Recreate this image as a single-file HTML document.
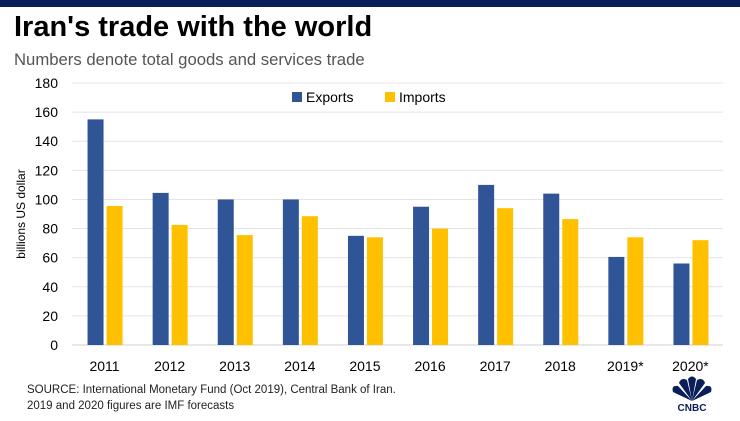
<!DOCTYPE html>
<html><head><meta charset="utf-8"><style>
html,body{margin:0;padding:0;background:#fff;}
body{width:740px;height:416px;overflow:hidden;position:relative;font-family:"Liberation Sans",sans-serif;}
</style></head><body>
<svg width="740" height="416" viewBox="0 0 740 416" xmlns="http://www.w3.org/2000/svg">
<rect x="0" y="0" width="740" height="7" fill="#0a1e5a"/>
<text x="14" y="36" font-size="29" font-weight="bold" fill="#000">Iran's trade with the world</text>
<text x="14" y="65" font-size="16.7" fill="#555">Numbers denote total goods and services trade</text>
<g id="grid"></g>
<g id="yt"></g>
<text transform="translate(25,214) rotate(-90)" text-anchor="middle" font-size="12" fill="#000">billions US dollar</text>
<g id="bars"></g>
<g id="xt"></g>
<g>
<rect x="292" y="92" width="10" height="10" fill="#2f5597"/>
<text x="306" y="102" font-size="14">Exports</text>
<rect x="385" y="92" width="10" height="10" fill="#ffc000"/>
<text x="399" y="102" font-size="14">Imports</text>
</g>
<text x="27" y="393" font-size="11.5" fill="#222">SOURCE: International Monetary Fund (Oct 2019), Central Bank of Iran.</text>
<text x="27" y="409" font-size="11.5" fill="#222">2019 and 2020 figures are IMF forecasts</text>
<g fill="#0a1e5a">
<path d="M692 401 L673 392 Q671 385 678 386 Z"/>
<path d="M692 401 L679 383 Q681 377 687 380 Z"/>
<path d="M692 401 L688 379 Q692 374 696 379 Z"/>
<path d="M692 401 L697 380 Q703 377 705 383 Z"/>
<path d="M692 401 L706 386 Q713 385 711 392 Z"/>
<text x="692" y="411" text-anchor="middle" font-size="10" font-weight="bold" font-family="Liberation Sans">CNBC</text>
</g>
</svg>
<script>
const categories=["2011","2012","2013","2014","2015","2016","2017","2018","2019*","2020*"];
const exportsVals=[155,104.5,100,100,75,95,110,104,60.5,56];
const importsVals=[95.5,82.5,75.5,88.5,74,80,94,86.5,74,72];
const yTicks=[0,20,40,60,80,100,120,140,160,180];
const NS="http://www.w3.org/2000/svg";
const x0=72,x1=723,y0=345,y180=83,ymax=180;
const y=v=>y0-(v/ymax)*(y0-y180);
const band=(x1-x0)/categories.length;
const cx=i=>x0+band*(i+0.5);
function mk(t,a,p){const e=document.createElementNS(NS,t);for(const k in a)e.setAttribute(k,a[k]);p.appendChild(e);return e;}
const grid=document.getElementById('grid'),yt=document.getElementById('yt'),bars=document.getElementById('bars'),xt=document.getElementById('xt');
yTicks.forEach(v=>{
 const l=mk('line',{x1:x0,x2:x1,y1:y(v),y2:y(v),stroke:v===0?'#d0d0d0':'#e4e4e4','stroke-width':1},grid);
 
 
 const t=mk('text',{x:58,y:y(v)+5,'text-anchor':'end','font-size':14},yt);t.textContent=v;
 
 
});
categories.forEach((c,i)=>{
 const e=mk('rect',{x:cx(i)-17,y:y(exportsVals[i]),width:16,height:y0-y(exportsVals[i]),fill:'#2f5597'},bars);
 
 
 const m=mk('rect',{x:cx(i)+2,y:y(importsVals[i]),width:16,height:y0-y(importsVals[i]),fill:'#ffc000'},bars);
 
 
 const t=mk('text',{x:cx(i),y:371,'text-anchor':'middle','font-size':14},xt);t.textContent=c;
 
 
});
</script>
</body></html>
